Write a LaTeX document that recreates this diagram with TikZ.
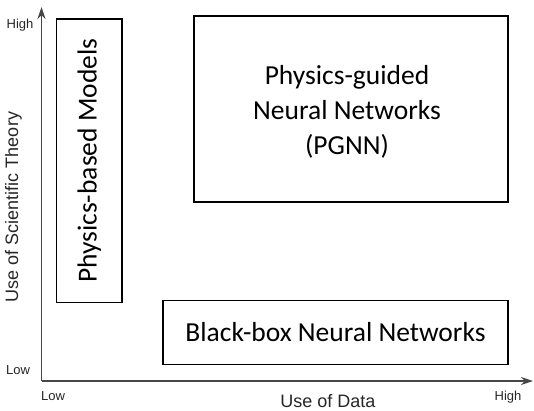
\documentclass[tikz,border=0pt]{standalone}
\usepackage{fontspec}
\newfontfamily\boxfont{Carlito}
\newfontfamily\axisfont{Liberation Sans}
\usetikzlibrary{arrows.meta}
\begin{document}
\begin{tikzpicture}[x=1pt,y=-1pt,
  axisline/.style={draw=black!72, line width=1.4pt, -{Stealth[length=12pt,width=8pt]}},
  regionbox/.style={draw=black, line width=1.5pt, inner sep=0pt, align=center,
    font=\boxfont\fontsize{27.5}{35}\selectfont},
  boxtext/.style={inner sep=0pt, align=center, font=\boxfont\fontsize{27.5}{35}\selectfont},
  ticklabel/.style={font=\axisfont\fontsize{13}{15}\selectfont, text=black!85, inner sep=0pt},
  axistitle/.style={font=\axisfont\fontsize{18}{21}\selectfont, text=black!85, inner sep=0pt}]
\useasboundingbox (0,0) rectangle (534,410);
\coordinate (origin) at (41.5,381);
\coordinate (ytop) at (41.5,7);
\coordinate (xend) at (533,381);
\draw[axisline] (origin) -- (ytop);
\draw[axisline] (origin) -- (xend);
\node[ticklabel] (yhigh) at (20,25) {High};
\node[ticklabel] (ylow) at (18,370) {Low};
\node[ticklabel] (xlow) at (53,396) {Low};
\node[ticklabel] (xhigh) at (508,397) {High};
\node[axistitle, anchor=base] (xtitle) at (328,407.5) {Use of Data};
\node[axistitle, anchor=base, rotate=90] (ytitle) at (18,207) {Use of Scientific Theory};
\node[regionbox, minimum width=65.5pt, minimum height=283.5pt] (pbm) at (89.25,160.75) {};
\node[boxtext, rotate=90] (pbmtext) at (89.25,160.75) {Physics-based Models};
\node[regionbox, minimum width=314pt, minimum height=186pt] (pgnn) at (351,109) {};
\node[boxtext] (pgnntext) at (347,112) {Physics-guided\\Neural Networks\\(PGNN)};
\node[regionbox, minimum width=345pt, minimum height=64pt] (bbnn) at (335.5,332.5) {Black-box Neural Networks};
\end{tikzpicture}
\end{document}
